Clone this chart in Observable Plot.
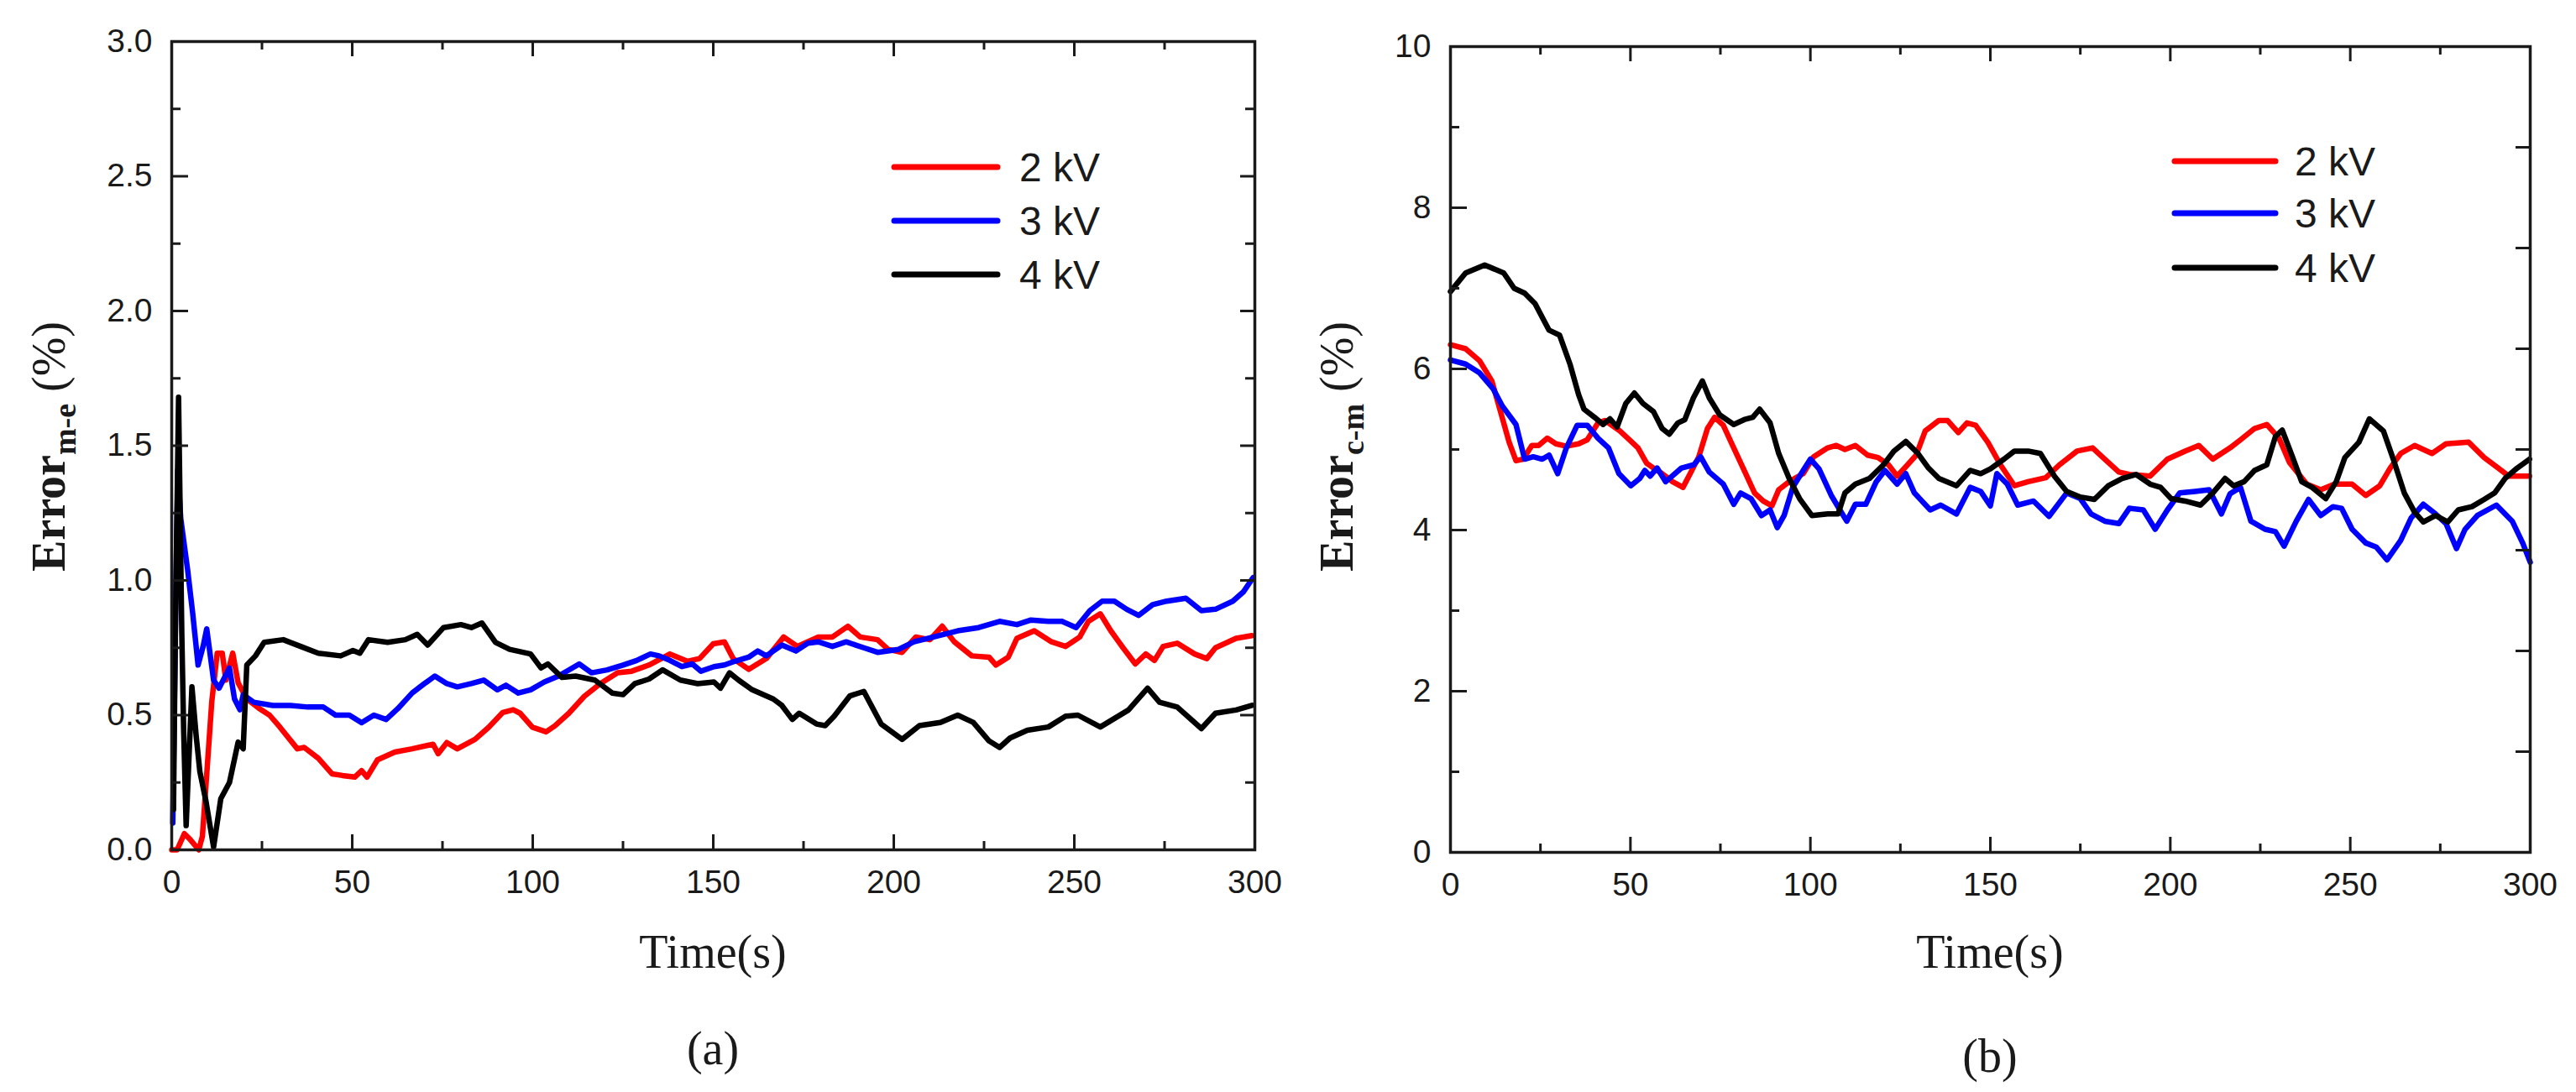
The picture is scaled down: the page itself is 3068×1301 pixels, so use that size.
<!DOCTYPE html>
<html><head><meta charset="utf-8">
<script src="https://cdn.jsdelivr.net/npm/d3@7"></script>
<script src="https://cdn.jsdelivr.net/npm/@observablehq/plot@0.6"></script>
<style>
html,body{margin:0;padding:0;background:#fff;}
#wrap{position:relative;width:3068px;height:1301px;overflow:hidden;background:#fff;}
#wrap svg{position:absolute;top:0;max-width:none;}
</style></head><body><div id="wrap"></div>
<script>
const series = ["2 kV", "3 kV", "4 kV"];
const seriesColors = ["#ff0000", "#0000ff", "#000000"];
const timeTicks = [0, 50, 100, 150, 200, 250, 300];
const timeMinorTicks = [25, 75, 125, 175, 225, 275];
const errMeTicks = [0, 0.5, 1, 1.5, 2, 2.5, 3];
const errMeMinorTicks = [0.25, 0.75, 1.25, 1.75, 2.25, 2.75];
const errCmTicks = [0, 2, 4, 6, 8, 10];
const errCmMinorTicks = [1, 3, 5, 7, 9];
const errCmRightTicks = [1.25, 2.5, 3.75, 5, 6.25, 7.5, 8.75];

// Panel (a): Error m-e (%) vs Time (s)
const me2kV = [[0,0],[1.5,0],[3.5,0.06],[5,0.04],[7.5,0],[8.5,0.05],[9.7,0.28],[11.1,0.55],[12.6,0.73],[14,0.73],[15,0.63],[16.9,0.73],[18.4,0.62],[20.8,0.56],[24.2,0.525],[27.1,0.5],[30,0.455],[34.8,0.375],[36.7,0.38],[40.6,0.34],[44.4,0.282],[47.3,0.276],[50.7,0.27],[52.6,0.294],[54.1,0.27],[57,0.334],[61.8,0.363],[66.6,0.375],[72.4,0.392],[73.8,0.357],[76.2,0.398],[79.1,0.375],[84,0.41],[87.8,0.455],[91.7,0.51],[94.6,0.52],[96.5,0.507],[99.9,0.455],[103.7,0.438],[106.1,0.46],[110,0.507],[114.3,0.57],[118.7,0.617],[123.5,0.657],[127.4,0.663],[132.2,0.686],[138,0.727],[142.8,0.7],[146.2,0.71],[150,0.765],[153.1,0.772],[155.5,0.71],[159.8,0.67],[164.7,0.71],[169.5,0.79],[173.3,0.755],[179.1,0.79],[183,0.79],[187.3,0.83],[190.7,0.79],[195.5,0.78],[198.4,0.744],[202.3,0.733],[206.1,0.79],[210,0.78],[213.4,0.83],[216.7,0.773],[221.6,0.72],[226.4,0.715],[228.3,0.686],[231.7,0.715],[234.1,0.785],[238.9,0.813],[243.7,0.772],[247.6,0.755],[251.5,0.79],[253.9,0.848],[257.2,0.876],[260.1,0.813],[263.5,0.75],[266.9,0.69],[269.8,0.727],[272.2,0.703],[274.6,0.755],[278.5,0.767],[283.3,0.727],[286.7,0.71],[289.1,0.75],[294.8,0.785],[299.2,0.795]];
const me3kV = [[0.3,0.1],[1.2,1.0],[1.7,1.41],[2.5,1.23],[4.4,1.04],[5.8,0.88],[7.3,0.686],[8.7,0.755],[9.7,0.82],[11.6,0.63],[13.1,0.6],[16,0.675],[17.4,0.56],[18.9,0.52],[19.8,0.576],[22.7,0.548],[28,0.536],[32.9,0.536],[37.7,0.53],[42,0.53],[45.4,0.5],[49.2,0.5],[52.6,0.472],[56,0.5],[59.4,0.484],[62.7,0.525],[66.6,0.582],[70,0.617],[72.9,0.645],[76.2,0.617],[79.1,0.605],[83,0.617],[86.4,0.63],[90.2,0.594],[92.6,0.611],[96,0.582],[99.4,0.594],[103.2,0.623],[107.1,0.645],[112.9,0.69],[116.3,0.657],[120.6,0.668],[125,0.686],[128.8,0.703],[132.6,0.727],[135,0.72],[138,0.703],[141.3,0.68],[144.2,0.69],[146.6,0.663],[150.2,0.68],[153.1,0.686],[156,0.7],[159.8,0.715],[162.3,0.738],[164.7,0.72],[169,0.76],[172.9,0.738],[176.2,0.767],[179.1,0.772],[183,0.755],[186.8,0.772],[191.7,0.75],[195.5,0.733],[201.3,0.744],[205.6,0.772],[211,0.79],[217.7,0.813],[223.5,0.825],[229.3,0.848],[234.1,0.836],[238,0.853],[242.8,0.848],[246.6,0.848],[250.5,0.825],[254.3,0.888],[257.7,0.923],[261.1,0.923],[264.5,0.893],[267.8,0.87],[271.7,0.91],[275.6,0.923],[280.9,0.934],[285.2,0.888],[289.1,0.893],[293.9,0.923],[296.8,0.957],[299.5,1.01]];
const me4kV = [[0.5,0.15],[1.0,0.8],[1.9,1.68],[2.8,0.8],[3.3,0.45],[4.0,0.09],[5.6,0.605],[6.8,0.42],[7.8,0.29],[9.5,0.18],[11.6,0.01],[13.6,0.19],[16,0.25],[18.4,0.40],[19.8,0.375],[20.8,0.686],[23.2,0.72],[25.6,0.77],[30.9,0.78],[35.7,0.755],[40.6,0.73],[46.8,0.72],[50.2,0.74],[52.1,0.73],[54.5,0.78],[59.8,0.77],[64.7,0.78],[68,0.80],[70.9,0.76],[75.3,0.825],[80.1,0.836],[83,0.825],[85.9,0.842],[89.7,0.77],[93.6,0.744],[99.4,0.727],[102.3,0.675],[104.2,0.69],[108.1,0.64],[111.9,0.645],[117.2,0.63],[122,0.582],[125,0.576],[128.3,0.617],[132.2,0.634],[136,0.668],[140.9,0.63],[145.7,0.617],[150.2,0.623],[152,0.6],[154.5,0.657],[157,0.63],[160.8,0.594],[166.6,0.56],[169,0.536],[171.9,0.484],[173.8,0.507],[178.6,0.467],[181,0.461],[183.5,0.496],[187.8,0.571],[191.7,0.588],[196.5,0.467],[202.3,0.41],[207.1,0.461],[212.9,0.473],[217.7,0.5],[222,0.473],[226.4,0.404],[229.3,0.38],[232.2,0.415],[237,0.444],[242.8,0.456],[247.6,0.496],[251,0.5],[257.2,0.456],[265,0.519],[270.3,0.6],[273.6,0.548],[278.5,0.53],[285.2,0.45],[289.1,0.507],[294.8,0.519],[299.2,0.536]];

// Panel (b): Error c-m (%) vs Time (s)
const cm2kV = [[0,6.3],[4.2,6.25],[8.1,6.1],[11.5,5.85],[13.9,5.47],[16.3,5.09],[18.2,4.86],[20.2,4.88],[22.6,5.05],[24.5,5.05],[26.9,5.14],[29.3,5.07],[32.2,5.04],[35.6,5.07],[38,5.12],[41,5.33],[42.9,5.36],[46.8,5.24],[49.7,5.12],[52.1,5.02],[54.5,4.83],[56.4,4.77],[58.8,4.7],[61.7,4.6],[64.6,4.53],[66.6,4.7],[69,4.91],[71.4,5.26],[73.4,5.4],[75.8,5.3],[78.7,5.02],[81.6,4.74],[84.5,4.46],[86.9,4.36],[89.3,4.3],[91.2,4.5],[94.1,4.6],[98,4.7],[100.9,4.91],[104.8,5.02],[107.2,5.05],[109.6,5.0],[112.5,5.05],[115.9,4.93],[118.8,4.9],[121.7,4.81],[124.1,4.67],[127,4.81],[129.4,4.93],[131.9,5.23],[135.7,5.36],[138.1,5.36],[141.1,5.21],[143.5,5.33],[145.9,5.3],[149.3,5.09],[152.8,4.81],[156.7,4.55],[160.5,4.6],[165.4,4.65],[169.2,4.81],[174.1,4.98],[178.4,5.02],[181.8,4.88],[185.7,4.72],[188.6,4.69],[194.4,4.67],[199.2,4.88],[204.1,4.98],[207.9,5.05],[211.8,4.88],[216.6,5.02],[219.5,5.12],[223.4,5.26],[226.8,5.31],[230.2,5.14],[233.1,4.84],[237.9,4.57],[241.8,4.5],[245.6,4.57],[250.5,4.57],[254.3,4.43],[258.2,4.55],[261.1,4.77],[264,4.95],[267.9,5.05],[272.7,4.95],[276.6,5.07],[282.9,5.09],[287.2,4.9],[291.1,4.77],[294,4.67],[299.8,4.67]];
const cm3kV = [[0,6.11],[4.2,6.06],[8.1,5.95],[11.9,5.75],[14.4,5.54],[18.2,5.31],[20.6,4.88],[23,4.91],[25.5,4.88],[27.4,4.93],[29.8,4.7],[32.2,5.02],[35.2,5.3],[38,5.3],[41,5.14],[43.9,5.02],[46.8,4.7],[50.1,4.55],[52.6,4.64],[54,4.74],[55.5,4.67],[57.4,4.77],[59.8,4.6],[64.2,4.77],[67.6,4.81],[69.5,4.91],[71.9,4.72],[75.8,4.57],[78.7,4.32],[80.6,4.46],[83.5,4.39],[86.4,4.18],[88.8,4.25],[90.8,4.03],[92.7,4.18],[95.1,4.53],[98,4.74],[100,4.88],[102.4,4.76],[105.8,4.43],[108.2,4.25],[110.1,4.11],[112.5,4.32],[115.4,4.32],[118.3,4.6],[120.7,4.74],[124.1,4.57],[126.5,4.7],[128.9,4.46],[133.3,4.25],[136.2,4.31],[140.6,4.2],[144.4,4.53],[147.3,4.48],[150,4.3],[151.8,4.7],[154.7,4.57],[157.6,4.31],[162,4.36],[166.3,4.17],[171.2,4.46],[175,4.39],[178,4.2],[181.8,4.11],[185.7,4.08],[188.6,4.27],[192.5,4.25],[195.8,4.01],[199.2,4.25],[202.6,4.46],[206.9,4.48],[210.8,4.5],[214.2,4.2],[216.6,4.45],[219.5,4.53],[222.4,4.11],[226.3,4.01],[229.2,3.98],[231.6,3.8],[235,4.11],[238.4,4.38],[241.8,4.18],[245.2,4.29],[247.6,4.27],[250.5,4.01],[254.3,3.84],[257.2,3.79],[260.2,3.63],[264,3.87],[266.9,4.15],[270.3,4.32],[273.7,4.2],[276.6,4.08],[279.5,3.77],[281.9,4.01],[285.3,4.18],[290.6,4.31],[295,4.11],[297.9,3.84],[300,3.6]];
const cm4kV = [[0,6.96],[4.2,7.19],[9.5,7.29],[14.8,7.19],[17.7,7.0],[20.6,6.94],[23.5,6.81],[27.4,6.48],[30.3,6.42],[33.2,6.06],[35.6,5.68],[37.1,5.5],[40,5.4],[42.4,5.31],[44.3,5.38],[46.3,5.28],[48.7,5.57],[51.1,5.7],[53.5,5.57],[56.4,5.47],[58.8,5.26],[60.8,5.19],[63.2,5.33],[65.1,5.37],[67.5,5.64],[70,5.85],[71.9,5.64],[74.8,5.43],[78.7,5.31],[81.6,5.37],[84,5.4],[85.9,5.5],[88.8,5.33],[91.2,4.95],[94.1,4.64],[97,4.39],[100.4,4.18],[104.8,4.2],[107.7,4.2],[109.6,4.46],[112.5,4.57],[116.4,4.64],[120.3,4.81],[123.2,4.98],[126.5,5.1],[129.9,4.95],[132.8,4.77],[135.7,4.64],[140.6,4.55],[144.4,4.74],[147.3,4.7],[150,4.76],[153.8,4.88],[156.7,4.98],[160.5,4.98],[163.9,4.95],[167.8,4.67],[171.2,4.48],[175,4.41],[178.9,4.38],[182.8,4.55],[186.6,4.64],[190.5,4.69],[194.4,4.57],[197.3,4.53],[200.2,4.39],[204.1,4.36],[208.4,4.31],[211.8,4.46],[215.2,4.64],[217.6,4.55],[220.5,4.6],[223.4,4.74],[226.8,4.81],[229.2,5.16],[231.1,5.24],[233.6,4.95],[236.5,4.6],[239.4,4.53],[243.2,4.39],[246.1,4.6],[248.5,4.9],[252.4,5.09],[255.3,5.38],[259.2,5.23],[262.1,4.86],[265,4.46],[267.9,4.22],[270.3,4.1],[273.7,4.18],[277.1,4.1],[280,4.25],[283.8,4.29],[287.2,4.38],[290.1,4.46],[293,4.64],[296.4,4.77],[299.8,4.88]];

const wrap = document.getElementById("wrap");
const INK = "#1a1a1a";
const SANS = "'Liberation Sans', Arial, sans-serif";
const SERIF = "'Liberation Serif', 'Times New Roman', serif";

function panel(cfg) {
  const W = cfg.width, H = 1301;
  const fw = W - cfg.ml - cfg.mr, fh = H - cfg.mt - cfg.mb;
  const rows = cfg.lines.flatMap((pts, i) => pts.map(([t, v]) => ({t, v, s: series[i]})));
  const tick = {stroke: INK, strokeWidth: 3};
  const svg = Plot.plot({
    width: W, height: H,
    marginLeft: cfg.ml, marginRight: cfg.mr, marginTop: cfg.mt, marginBottom: cfg.mb,
    style: {background: "transparent", fontFamily: SANS, color: INK, overflow: "visible"},
    x: {domain: [0, 300]},
    y: {domain: cfg.yDomain},
    color: {domain: series, range: seriesColors},
    marks: [
      Plot.line(rows, {x: "t", y: "v", stroke: "s", z: "s", strokeWidth: 6.5, strokeLinejoin: "round", strokeLinecap: "round"}),
      Plot.ruleX(timeTicks, {insetTop: fh - 18, ...tick}),
      Plot.ruleX(timeMinorTicks, {insetTop: fh - 10, ...tick}),
      Plot.ruleX(timeTicks, {insetBottom: fh - 18, ...tick}),
      Plot.ruleX(timeMinorTicks, {insetBottom: fh - 10, ...tick}),
      Plot.ruleY(cfg.yTicks, {insetRight: fw - 20, ...tick}),
      Plot.ruleY(cfg.yMinor, {insetRight: fw - 11, ...tick}),
      Plot.ruleY(cfg.rightMajor, {insetLeft: fw - 17, ...tick}),
      Plot.ruleY(cfg.rightMinor, {insetLeft: fw - 11, ...tick}),
      Plot.frame({stroke: INK, strokeWidth: 3.5}),
      Plot.axisX({ticks: timeTicks, tickSize: 0, tickPadding: 24, fontSize: 39, tickFormat: d => String(d), label: null}),
      Plot.axisY({ticks: cfg.yTicks, tickSize: 0, tickPadding: 23, fontSize: 39, tickFormat: cfg.yFormat, label: null})
    ]
  });
  svg.style.left = cfg.left + "px";
  const s = d3.select(svg);
  const cx = cfg.ml + fw / 2;
  // x title
  s.append("text").attr("x", cx).attr("y", 1153).attr("text-anchor", "middle")
    .attr("font-family", SERIF).attr("font-size", 56).attr("fill", INK).text("Time(s)");
  // caption
  s.append("text").attr("x", cx).attr("y", cfg.captionY).attr("text-anchor", "middle")
    .attr("font-family", SERIF).attr("font-size", 56).attr("fill", INK).text(cfg.caption);
  // y title
  const yt = s.append("text").attr("transform", `translate(77,532) rotate(-90)`)
    .attr("text-anchor", "middle").attr("font-family", SERIF).attr("font-size", 56).attr("fill", INK);
  yt.append("tspan").attr("font-weight", "bold").text("Error");
  yt.append("tspan").attr("font-weight", "bold").attr("font-size", 38).attr("dy", 13).text(cfg.sub);
  yt.append("tspan").attr("dy", -13).text("\u00a0(%)");
  // legend
  series.forEach((name, i) => {
    const y = cfg.legend.rows[i];
    s.append("line").attr("x1", cfg.legend.x1).attr("x2", cfg.legend.x2).attr("y1", y).attr("y2", y)
      .attr("stroke", seriesColors[i]).attr("stroke-width", 7).attr("stroke-linecap", "round");
    s.append("text").attr("x", cfg.legend.tx).attr("y", y).attr("dy", "0.36em")
      .attr("text-anchor", "start")
      .attr("font-family", SANS).attr("font-size", 48).attr("fill", INK).text(name);
  });
  wrap.appendChild(svg);
}

panel({
  left: 0, width: 1534, ml: 204, mr: 40, mt: 49, mb: 289,
  lines: [me2kV, me3kV, me4kV],
  yDomain: [0, 3], yTicks: errMeTicks, yMinor: errMeMinorTicks,
  rightMajor: errMeTicks, rightMinor: errMeMinorTicks,
  yFormat: d3.format(".1f"), sub: "m-e", caption: "(a)", captionY: 1268,
  legend: {x1: 1065, x2: 1188, tx: 1214, rows: [199, 263, 327]}
});
panel({
  left: 1534, width: 1534, ml: 193, mr: 55, mt: 55, mb: 286,
  lines: [cm2kV, cm3kV, cm4kV],
  yDomain: [0, 10], yTicks: errCmTicks, yMinor: errCmMinorTicks,
  rightMajor: errCmRightTicks, rightMinor: [],
  yFormat: d3.format("d"), sub: "c-m", caption: "(b)", captionY: 1277,
  legend: {x1: 1056, x2: 1176, tx: 1199, rows: [192, 254, 319]}
});
</script></body></html>
